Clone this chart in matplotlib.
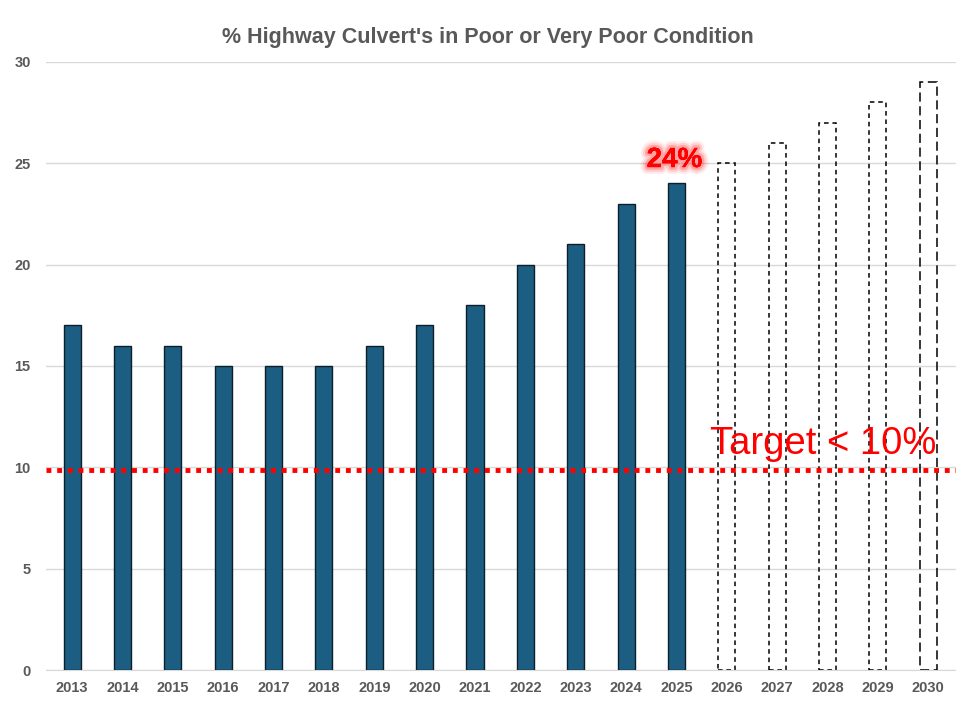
import matplotlib
matplotlib.use("Agg")
import matplotlib.pyplot as plt
import matplotlib.patheffects as pe
import numpy as np

plt.rcParams['font.family'] = ['Liberation Sans', 'DejaVu Sans']

# data
years_actual = ['2013', '2014', '2015', '2016', '2017', '2018', '2019',
                '2020', '2021', '2022', '2023', '2024', '2025']
pct_actual = [17, 16, 16, 15, 15, 15, 16, 17, 18, 20, 21, 23, 24]
years_proj = ['2026', '2027', '2028', '2029', '2030']
pct_proj = [25, 26, 27, 28, 29]
target = 9.85

years = years_actual + years_proj
x = np.arange(len(years))
xa = x[:len(years_actual)]
xp = x[len(years_actual):]

fig = plt.figure(figsize=(9.56, 7.01), dpi=100)
ax = fig.add_axes([0.048, 0.044, 0.952, 0.868])

gray = '#595959'
bw = 0.34

ax.bar(xa, pct_actual, width=bw, color='#1b5e82', edgecolor='#0d1f2b', linewidth=1.0, zorder=3)
for i, (xx, v) in enumerate(zip(xp, pct_proj)):
    ls = (0, (6, 3)) if i == len(xp) - 1 else (0, (3, 2.5))
    ax.bar(xx, v, width=bw, facecolor='none', edgecolor='black', linewidth=1.1,
           linestyle=ls, zorder=3)

# target line
ax.axhline(target, color='#ff0000', linestyle=(0, (1, 1.2)), linewidth=3.5, zorder=4)
ax.text(xp[0] - 0.33, target + 1.3, 'Target < 10%', color='#ff0000', fontsize=27.5,
        ha='left', va='center', zorder=5)

# 24% label with soft glow
t = ax.text(xa[-1] - 0.04, pct_actual[-1] + 1.15, f'{pct_actual[-1]}%', color='#ff0000',
            fontsize=20, fontweight='bold', ha='center', va='center', zorder=5)
t.set_path_effects([pe.withStroke(linewidth=10, foreground='#ff0000', alpha=0.08),
                    pe.withStroke(linewidth=7, foreground='#ff0000', alpha=0.12),
                    pe.withStroke(linewidth=4, foreground='#ff0000', alpha=0.2),
                    pe.Normal()])

ax.set_xlim(-0.52, len(years) - 0.45)
ax.set_ylim(0, 30)
ax.set_yticks(range(0, 31, 5))
ax.set_xticks(x)
ax.set_xticklabels(years)
ax.grid(axis='y', color='#d9d9d9', linewidth=1, zorder=0)
for s in ['top', 'right', 'left']:
    ax.spines[s].set_visible(False)
ax.spines['bottom'].set_color('#d9d9d9')
ax.tick_params(length=0, colors=gray, labelsize=10.5, pad=8)
for lbl in ax.get_xticklabels() + ax.get_yticklabels():
    lbl.set_fontweight('bold')
ax.tick_params(axis='y', pad=11)

fig.text(0.51, 0.947, "% Highway Culvert's in Poor or Very Poor Condition",
         ha='center', va='center', fontsize=15.5, color=gray, fontweight='bold')

fig.savefig('out.png', dpi=100)
